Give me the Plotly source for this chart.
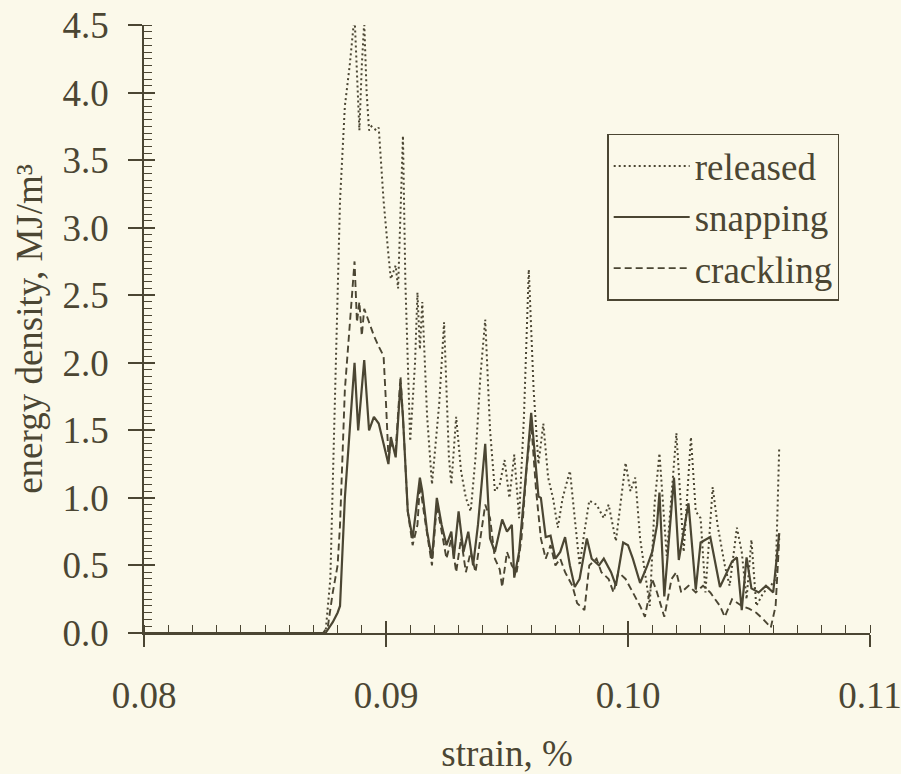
import plotly.graph_objects as go

# strain (%) and energy density (MJ/m^3) for each emission type
released_strain = [0.0800, 0.0875, 0.0877, 0.0879, 0.0881, 0.0883, 0.0885, 0.0887, 0.08885, 0.0889,
                   0.0890, 0.0891, 0.0892, 0.0893, 0.0894, 0.0896, 0.0897, 0.0899, 0.0901, 0.0902,
                   0.0904, 0.0905, 0.0907, 0.0908, 0.0910, 0.0912, 0.0913, 0.0914, 0.0915, 0.0917,
                   0.0919, 0.0922, 0.0924, 0.0926, 0.0927, 0.0929, 0.0931, 0.0933, 0.0935, 0.0937,
                   0.0939, 0.0941, 0.0943, 0.0945, 0.0947, 0.0949, 0.0951, 0.0953, 0.0955, 0.0957,
                   0.0959, 0.0961, 0.0963, 0.0965, 0.0967, 0.0969, 0.0971, 0.0973, 0.0976, 0.0978,
                   0.0980, 0.0982, 0.0984, 0.0987, 0.0990, 0.0992, 0.0995, 0.0999, 0.1001, 0.1003,
                   0.1005, 0.1007, 0.1009, 0.1011, 0.1013, 0.1016, 0.1020, 0.1023, 0.1026, 0.1028,
                   0.1030, 0.1032, 0.1035, 0.1037, 0.1040, 0.1042, 0.1045, 0.1047, 0.1049, 0.1051,
                   0.1053, 0.1056, 0.1059, 0.1061, 0.10625]
released_energy = [0.0, 0.0, 0.4, 1.8, 3.2, 3.9, 4.2, 4.57, 4.0, 3.72,
                   4.2, 4.52, 4.0, 3.72, 3.75, 3.72, 3.74, 3.2, 2.8, 2.62,
                   2.72, 2.55, 3.68, 2.6, 1.42, 2.0, 2.52, 2.1, 2.45, 1.6,
                   1.1, 1.7, 2.3, 1.3, 1.1, 1.6, 1.2, 1.0, 0.9, 1.3,
                   1.9, 2.32, 1.5, 1.05, 1.1, 1.28, 1.0, 1.32, 0.85, 1.6,
                   2.69, 1.8, 1.25, 1.55, 1.15, 1.0, 0.78, 1.0, 1.2, 0.86,
                   0.5, 0.75, 0.98, 0.95, 0.85, 0.95, 0.68, 1.26, 1.05, 1.15,
                   0.7, 0.45, 0.2, 0.96, 1.33, 0.57, 1.48, 0.6, 1.45, 0.9,
                   0.85, 0.3, 1.08, 0.8, 0.5, 0.35, 0.78, 0.6, 0.25, 0.69,
                   0.2, 0.3, 0.35, 0.4, 1.38]

snapping_strain = [0.0800, 0.0875, 0.0878, 0.0880, 0.0881, 0.0883, 0.0885, 0.0887, 0.08885, 0.0891,
                   0.0893, 0.0895, 0.0897, 0.0899, 0.0901, 0.0902, 0.0904, 0.0906, 0.0907, 0.0909,
                   0.0911, 0.0914, 0.0915, 0.0917, 0.0919, 0.0921, 0.0923, 0.0925, 0.0927, 0.0928,
                   0.0930, 0.0932, 0.0934, 0.0936, 0.0938, 0.0941, 0.0943, 0.0945, 0.0948, 0.0950,
                   0.0952, 0.0953, 0.0955, 0.0957, 0.0960, 0.0963, 0.0964, 0.0966, 0.0968, 0.0970,
                   0.0972, 0.0974, 0.0976, 0.0978, 0.0980, 0.0983, 0.0985, 0.0988, 0.0990, 0.0993,
                   0.0995, 0.0998, 0.1000, 0.1002, 0.1005, 0.1008, 0.1010, 0.1012, 0.1013, 0.1015,
                   0.1019, 0.1021, 0.1025, 0.1028, 0.1030, 0.1034, 0.1038, 0.1043, 0.1045, 0.1047,
                   0.1049, 0.1051, 0.1054, 0.1057, 0.1060, 0.10625]
snapping_energy = [0.0, 0.0, 0.08, 0.15, 0.2, 1.0, 1.5, 2.0, 1.5, 2.02,
                   1.5, 1.6, 1.55, 1.4, 1.25, 1.45, 1.3, 1.85, 1.6, 0.9,
                   0.7, 1.15, 1.05, 0.75, 0.55, 1.0, 0.8, 0.65, 0.75, 0.55,
                   0.9, 0.6, 0.75, 0.5, 0.8, 1.4, 0.7, 0.6, 0.84, 0.75,
                   0.8, 0.41, 0.6, 1.0, 1.63, 1.01, 1.0, 0.71, 0.72, 0.55,
                   0.6, 0.71, 0.5, 0.34, 0.4, 0.7, 0.55, 0.5, 0.55, 0.45,
                   0.35, 0.67, 0.65, 0.55, 0.37, 0.5, 0.6, 0.8, 1.04, 0.27,
                   1.15, 0.54, 0.96, 0.32, 0.67, 0.71, 0.34, 0.53, 0.56, 0.17,
                   0.56, 0.33, 0.3, 0.35, 0.3, 0.74]

crackling_strain = [0.0800, 0.0874, 0.0876, 0.0878, 0.0880, 0.0881, 0.0883, 0.0885, 0.0887, 0.0888,
                    0.0889, 0.0890, 0.0891, 0.0893, 0.0895, 0.0897, 0.0899, 0.0900, 0.0901, 0.0902,
                    0.0904, 0.0906, 0.0907, 0.0909, 0.0911, 0.0913, 0.0914, 0.0916, 0.0918, 0.0919,
                    0.0921, 0.0923, 0.0925, 0.0927, 0.0929, 0.0931, 0.0933, 0.0935, 0.0937, 0.0939,
                    0.0941, 0.0943, 0.0945, 0.0947, 0.0948, 0.0950, 0.0952, 0.0954, 0.0956, 0.0958,
                    0.0960, 0.0962, 0.0964, 0.0966, 0.0968, 0.0970, 0.0972, 0.0974, 0.0977, 0.0979,
                    0.0982, 0.0984, 0.0987, 0.0989, 0.0992, 0.0994, 0.0996, 0.0999, 0.1002, 0.1005,
                    0.1007, 0.1010, 0.1012, 0.1015, 0.1018, 0.1020, 0.1022, 0.1025, 0.1028, 0.1031,
                    0.1034, 0.1038, 0.1040, 0.1043, 0.1047, 0.1050, 0.1053, 0.1056, 0.1059, 0.1061,
                    0.10625]
crackling_energy = [0.0, 0.0, 0.05, 0.3, 0.5, 0.8, 1.8, 2.3, 2.75, 2.3,
                    2.45, 2.2, 2.4, 2.3, 2.2, 2.12, 2.05, 1.7, 1.3, 1.4,
                    1.35, 1.9, 1.6, 0.9, 0.65, 0.8, 1.1, 0.85, 0.6, 0.5,
                    0.95, 0.75, 0.55, 0.7, 0.45, 0.7, 0.45, 0.6, 0.45, 0.7,
                    0.95, 0.85, 0.55, 0.47, 0.34, 0.6, 0.5, 0.45, 0.7, 1.2,
                    1.55, 1.06, 0.7, 0.55, 0.65, 0.5, 0.55, 0.45, 0.35, 0.22,
                    0.17, 0.5, 0.55, 0.45, 0.4, 0.3, 0.45, 0.4, 0.3, 0.2,
                    0.12, 0.4, 0.3, 0.12, 0.4, 0.45, 0.3, 0.35, 0.3, 0.35,
                    0.3, 0.2, 0.12, 0.25, 0.2, 0.18, 0.15, 0.1, 0.04, 0.2,
                    0.7]

x_ticks = [0.08, 0.09, 0.10, 0.11]
x_tick_text = ["0.08", "0.09", "0.10", "0.11"]
y_ticks = [0.0, 0.5, 1.0, 1.5, 2.0, 2.5, 3.0, 3.5, 4.0, 4.5]
y_tick_text = ["0.0", "0.5", "1.0", "1.5", "2.0", "2.5", "3.0", "3.5", "4.0", "4.5"]

INK = "#4b4633"
PAPER = "#fbf9ea"
FONT = "Liberation Serif"
FS = 37

xrange = [0.08, 0.11]
yrange = [0.0, 4.5]
# minor tick positions: ten subdivisions between consecutive major ticks
x_minor = [round(xrange[0] + i * 0.001, 4) for i in range(31)]
y_minor = [round(yrange[0] + i * 0.05, 3) for i in range(91)]

fig = go.Figure()
fig.add_trace(go.Scatter(x=released_strain, y=released_energy, mode="lines", name="released",
                         line=dict(color=INK, width=2.0, dash="2px,3px")))
fig.add_trace(go.Scatter(x=snapping_strain, y=snapping_energy, mode="lines", name="snapping",
                         line=dict(color=INK, width=2.2)))
fig.add_trace(go.Scatter(x=crackling_strain, y=crackling_energy, mode="lines", name="crackling",
                         line=dict(color=INK, width=1.9, dash="7px,4px")))
# invisible trace on the overlay axes, which carry the inward half of the major ticks
fig.add_trace(go.Scatter(x=[xrange[0]], y=[yrange[0]], xaxis="x2", yaxis="y2", mode="markers",
                         marker=dict(opacity=0), showlegend=False, hoverinfo="skip"))

fig.update_layout(
    width=901, height=774,
    margin=dict(l=144, r=31, t=25, b=141),
    paper_bgcolor=PAPER, plot_bgcolor=PAPER,
    font=dict(family=FONT, size=FS, color=INK),
    showlegend=True,
    legend=dict(x=0.638, y=0.821, xanchor="left", yanchor="top",
                bgcolor=PAPER, bordercolor=INK, borderwidth=1.5,
                font=dict(family=FONT, size=FS, color=INK),
                itemwidth=76, tracegroupgap=0),
    xaxis=dict(range=xrange, tickmode="array", tickvals=x_ticks, ticktext=x_tick_text,
               showgrid=False, zeroline=False, showline=True, linecolor=INK, linewidth=1.5,
               ticks="outside", ticklen=12, tickwidth=1.5, tickcolor=INK,
               ticklabelstandoff=17, ticklabeloverflow="allow", automargin=False,
               minor=dict(tickmode="array", tickvals=x_minor, ticks="inside", ticklen=8,
                          tickwidth=1.2, tickcolor=INK, showgrid=False),
               title=dict(text="strain, %", standoff=78, font=dict(size=FS)),
               fixedrange=True),
    yaxis=dict(range=yrange, tickmode="array", tickvals=y_ticks, ticktext=y_tick_text,
               showgrid=False, zeroline=False, showline=True, linecolor=INK, linewidth=1.5,
               ticks="outside", ticklen=14, tickwidth=1.5, tickcolor=INK,
               ticklabelstandoff=12, ticklabeloverflow="allow", automargin=False,
               minor=dict(tickmode="array", tickvals=y_minor, ticks="inside", ticklen=8,
                          tickwidth=1.2, tickcolor=INK, showgrid=False),
               title=dict(text="energy density, MJ/m³", standoff=9, font=dict(size=FS)),
               fixedrange=True),
    xaxis2=dict(range=xrange, overlaying="x", anchor="y2", side="bottom",
                tickmode="array", tickvals=x_ticks, showticklabels=False, showgrid=False,
                zeroline=False, showline=False, ticks="inside", ticklen=12, tickwidth=1.5,
                tickcolor=INK, automargin=False, fixedrange=True),
    yaxis2=dict(range=yrange, overlaying="y", anchor="x2", side="left",
                tickmode="array", tickvals=y_ticks, showticklabels=False, showgrid=False,
                zeroline=False, showline=False, ticks="inside", ticklen=11, tickwidth=1.5,
                tickcolor=INK, automargin=False, fixedrange=True),
)

fig.write_html("out.html")
